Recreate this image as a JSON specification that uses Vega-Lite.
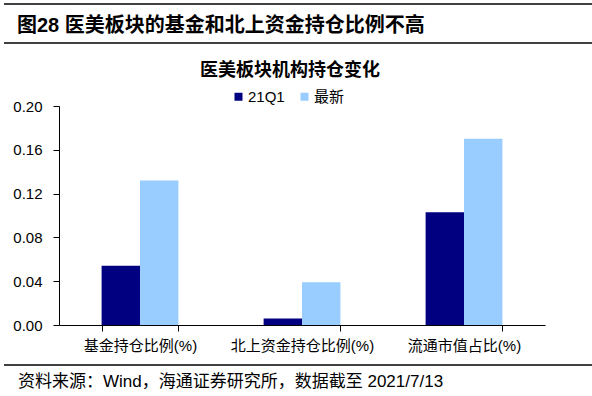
{
  "$schema": "https://vega.github.io/schema/vega-lite/v6.json",
  "padding": {"left": 3, "top": 3, "right": 0, "bottom": 0},
  "spacing": 11,
  "resolve": {"legend": {"color": "independent"}, "scale": {"color": "independent"}},
  "config": {
    "view": {"stroke": null},
    "font": "Liberation Sans, Noto Sans CJK SC"
  },
  "datasets": {
    "header": [{"text": "图28 医美板块的基金和北上资金持仓比例不高"}],
    "source": [{"text": "资料来源：Wind，海通证券研究所，数据截至 2021/7/13"}],
    "holdings": [
      {"category": "基金持仓比例(%)", "series": "21Q1", "value": 0.054},
      {"category": "基金持仓比例(%)", "series": "最新", "value": 0.132},
      {"category": "北上资金持仓比例(%)", "series": "21Q1", "value": 0.006},
      {"category": "北上资金持仓比例(%)", "series": "最新", "value": 0.039},
      {"category": "流通市值占比(%)", "series": "21Q1", "value": 0.103},
      {"category": "流通市值占比(%)", "series": "最新", "value": 0.170}
    ]
  },
  "vconcat": [
    {
      "width": 531,
      "height": 47,
      "data": {"name": "header"},
      "layer": [
        {
          "mark": {"type": "text", "align": "left", "baseline": "middle", "dx": -42, "dy": -2, "fontSize": 20, "fontWeight": "bold", "color": "black"},
          "encoding": {
            "x": {"datum": 0, "type": "quantitative", "scale": {"domain": [0, 1]}, "axis": null},
            "y": {"datum": 0.5, "type": "quantitative", "scale": {"domain": [0, 1]}, "axis": null},
            "text": {"field": "text"}
          }
        },
        {
          "mark": {"type": "rule", "stroke": "black", "strokeWidth": 1.5, "xOffset": -55, "x2Offset": 55},
          "encoding": {
            "x": {"value": 0},
            "x2": {"value": "width"},
            "y": {"datum": 1, "type": "quantitative"}
          }
        },
        {
          "mark": {"type": "rule", "stroke": "black", "strokeWidth": 1.5, "xOffset": -55, "x2Offset": 55, "yOffset": -8},
          "encoding": {
            "x": {"value": 0},
            "x2": {"value": "width"},
            "y": {"datum": 0, "type": "quantitative"}
          }
        }
      ]
    },
    {
      "width": 486,
      "height": 219,
      "data": {"name": "holdings"},
      "title": {"text": "医美板块机构持仓变化", "fontSize": 18, "font": "Noto Sans CJK SC", "fontWeight": "bold", "color": "black", "anchor": "middle", "dx": -12, "offset": 9},
      "mark": {"type": "bar"},
      "encoding": {
        "x": {
          "field": "category", "type": "nominal", "sort": null,
          "scale": {"paddingInner": 0.526, "paddingOuter": 0.263},
          "axis": {"title": null, "labelAngle": 0, "labelFontSize": 15, "labelColor": "black", "labelPadding": 7, "domainColor": "black", "tickColor": "black", "tickSize": 6, "tickBand": "extent", "grid": false}
        },
        "xOffset": {"field": "series", "type": "nominal", "sort": ["21Q1", "最新"], "scale": {"paddingInner": 0, "paddingOuter": 0}},
        "y": {
          "field": "value", "type": "quantitative",
          "scale": {"domain": [0, 0.2], "nice": false},
          "axis": {"title": null, "values": [0, 0.04, 0.08, 0.12, 0.16, 0.2], "format": ".2f", "labelFontSize": 15, "labelColor": "black", "labelPadding": 11, "tickSize": 6, "tickColor": "black", "domainColor": "black", "grid": false, "minExtent": 55}
        },
        "color": {
          "field": "series", "type": "nominal",
          "scale": {"domain": ["21Q1", "最新"], "range": ["#000080", "#99CCFF"]},
          "legend": {"orient": "none", "legendX": 172, "legendY": -17, "direction": "horizontal", "title": null, "symbolType": "square", "symbolSize": 64, "symbolStrokeWidth": 0, "labelFontSize": 15, "labelColor": "black", "columnPadding": 12, "labelOffset": 2, "padding": 0}
        }
      }
    },
    {
      "width": 531,
      "height": 34,
      "data": {"name": "source"},
      "layer": [
        {
          "mark": {"type": "text", "align": "left", "baseline": "middle", "dx": -41, "fontSize": 17, "color": "black"},
          "encoding": {
            "x": {"datum": 0, "type": "quantitative", "scale": {"domain": [0, 1]}, "axis": null},
            "y": {"datum": 0.5, "type": "quantitative", "scale": {"domain": [0, 1]}, "axis": null},
            "text": {"field": "text"}
          }
        },
        {
          "mark": {"type": "rule", "stroke": "black", "strokeWidth": 1.5, "xOffset": -55, "x2Offset": 55},
          "encoding": {
            "x": {"value": 0},
            "x2": {"value": "width"},
            "y": {"datum": 1, "type": "quantitative"}
          }
        }
      ]
    }
  ]
}
